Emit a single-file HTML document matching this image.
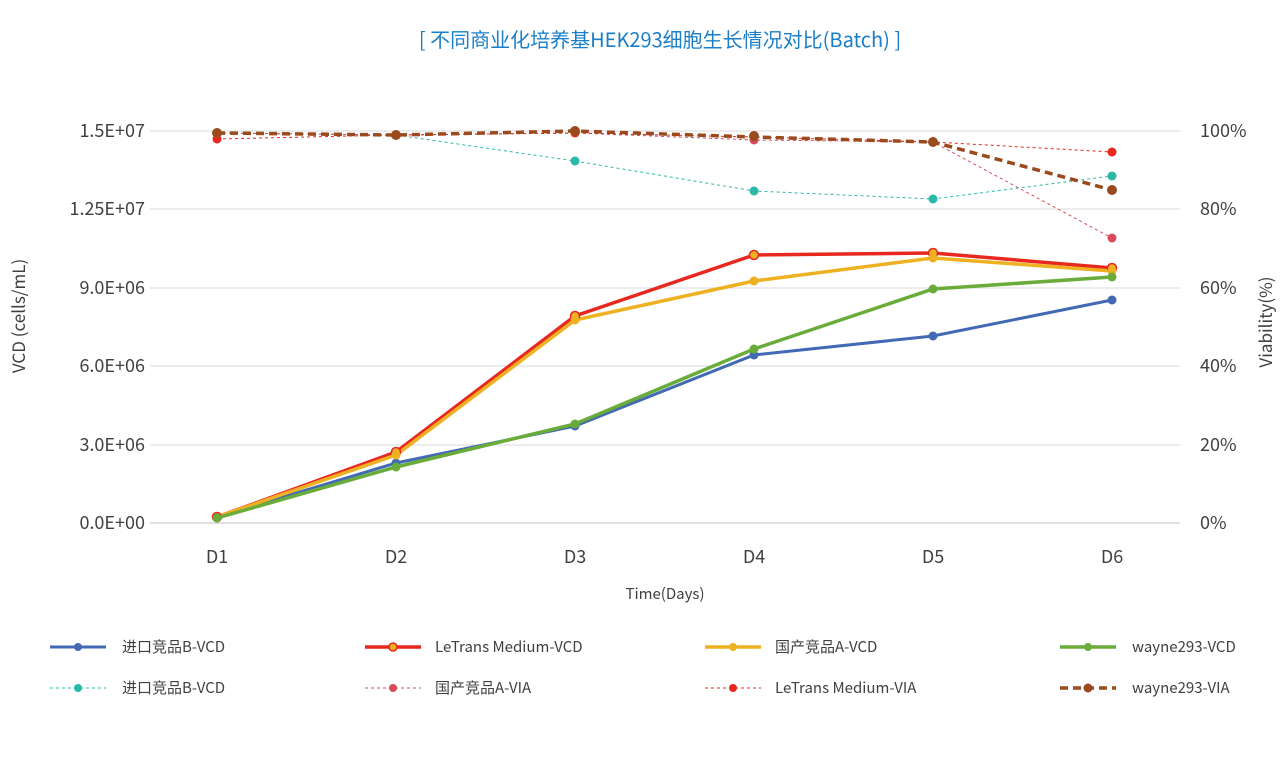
<!DOCTYPE html>
<html><head><meta charset="utf-8"><style>
html,body{margin:0;padding:0;background:#fff;}
svg{display:block;font-family:"Noto Sans CJK SC","Liberation Sans",sans-serif;}
</style></head><body>
<svg width="1280" height="763" viewBox="0 0 1280 763">
<text x="660" y="47" text-anchor="middle" font-size="20" fill="#1a7fc8">[ 不同商业化培养基HEK293细胞生长情况对比(Batch) ]</text>
<g stroke="#d9d9d9" stroke-width="1">
<line x1="150" y1="131" x2="1180" y2="131"/><line x1="150" y1="209" x2="1180" y2="209"/>
<line x1="150" y1="288" x2="1180" y2="288"/><line x1="150" y1="366" x2="1180" y2="366"/>
<line x1="150" y1="445" x2="1180" y2="445"/><line x1="150" y1="523" x2="1180" y2="523" stroke="#bfbfbf"/>
</g>
<g font-size="18" fill="#404040" text-anchor="end">
<text x="145" y="137">1.5E+07</text><text x="145" y="215">1.25E+07</text><text x="145" y="294">9.0E+06</text>
<text x="145" y="372">6.0E+06</text><text x="145" y="451">3.0E+06</text><text x="145" y="529">0.0E+00</text>
</g>
<g font-size="18" fill="#404040" text-anchor="start">
<text x="1200" y="137">100%</text><text x="1200" y="215">80%</text><text x="1200" y="294">60%</text>
<text x="1200" y="372">40%</text><text x="1200" y="451">20%</text><text x="1200" y="529">0%</text>
</g>
<g font-size="18" fill="#404040" text-anchor="middle">
<text x="217" y="563">D1</text><text x="396" y="563">D2</text><text x="575" y="563">D3</text>
<text x="754" y="563">D4</text><text x="933" y="563">D5</text><text x="1112" y="563">D6</text>
</g>
<text x="665" y="599" font-size="15" fill="#404040" text-anchor="middle">Time(Days)</text>
<text transform="translate(25,316) rotate(-90)" font-size="17" fill="#404040" text-anchor="middle">VCD (cells/mL)</text>
<text transform="translate(1272,322) rotate(-90)" font-size="17" fill="#404040" text-anchor="middle">Viability(%)</text>

<polyline points="217,133 396,135 575,161 754,191 933,199 1112,176" fill="none" stroke="#2bb8a8" stroke-width="1" stroke-dasharray="3,3"/>
<polyline points="217,133 396,135 575,133 754,140 933,142 1112,238" fill="none" stroke="#d84a5c" stroke-width="1" stroke-dasharray="3,3"/>
<polyline points="217,139 396,135 575,133 754,137 933,142 1112,152" fill="none" stroke="#e8281e" stroke-width="1" stroke-dasharray="3,3"/>
<g fill="#2bb8a8"><circle cx="217" cy="133" r="4.5"/><circle cx="396" cy="135" r="4.5"/><circle cx="575" cy="161" r="4.5"/><circle cx="754" cy="191" r="4.5"/><circle cx="933" cy="199" r="4.5"/><circle cx="1112" cy="176" r="4.5"/></g>
<g fill="#d84a5c"><circle cx="754" cy="140" r="4.5"/><circle cx="1112" cy="238" r="4.5"/></g>
<g fill="#e8281e"><circle cx="217" cy="139" r="4.5"/><circle cx="1112" cy="152" r="4.5"/><circle cx="575" cy="133" r="4.5"/></g>
<polyline points="217,133 396,135 575,131 754,137 933,142 1112,190" fill="none" stroke="#9b4a1e" stroke-width="3.5" stroke-dasharray="8,5"/>
<g fill="#9b4a1e"><circle cx="217" cy="133" r="5"/><circle cx="396" cy="135" r="5"/><circle cx="575" cy="131" r="5"/><circle cx="754" cy="136" r="5"/><circle cx="933" cy="142" r="5"/><circle cx="1112" cy="190" r="5"/></g>

<polyline points="217,517 396,463 575,426 754,355 933,336 1112,300" fill="none" stroke="#4169b4" stroke-width="3"/>
<g fill="#4169b4"><circle cx="217" cy="517" r="4.5"/><circle cx="396" cy="463" r="4.5"/><circle cx="575" cy="426" r="4.5"/><circle cx="754" cy="355" r="4.5"/><circle cx="933" cy="336" r="4.5"/><circle cx="1112" cy="300" r="4.5"/></g>
<polyline points="217,517 396,452 575,316 754,255 933,253 1112,268" fill="none" stroke="#e8281e" stroke-width="3.5"/>
<polyline points="217,517 396,455 575,320 754,281 933,258 1112,271" fill="none" stroke="#eeb122" stroke-width="3.5"/>
<g fill="#eeb122" stroke="#e8281e" stroke-width="1.5"><circle cx="217" cy="517" r="4.5"/><circle cx="396" cy="452" r="4.5"/><circle cx="575" cy="316" r="4.5"/><circle cx="754" cy="255" r="4.5"/><circle cx="933" cy="253" r="4.5"/><circle cx="1112" cy="268" r="4.5"/></g>
<g fill="#eeb122"><circle cx="396" cy="455" r="4.5"/><circle cx="575" cy="320" r="4.5"/><circle cx="754" cy="281" r="4.5"/><circle cx="933" cy="258" r="4.5"/><circle cx="1112" cy="271" r="4.5"/></g>
<polyline points="217,518 396,467 575,424 754,349 933,289 1112,277" fill="none" stroke="#6aac3a" stroke-width="3.5"/>
<g fill="#6aac3a"><circle cx="217" cy="518" r="4.5"/><circle cx="396" cy="467" r="4.5"/><circle cx="575" cy="424" r="4.5"/><circle cx="754" cy="349" r="4.5"/><circle cx="933" cy="289" r="4.5"/><circle cx="1112" cy="277" r="4.5"/></g>

<g font-size="15" fill="#404040">
<line x1="50" y1="647" x2="106" y2="647" stroke="#4169b4" stroke-width="3"/><circle cx="78" cy="647" r="4" fill="#4169b4"/>
<text x="122" y="652">进口竞品B-VCD</text>
<line x1="365" y1="647" x2="421" y2="647" stroke="#e8281e" stroke-width="3.5"/><circle cx="393" cy="647" r="4" fill="#eeb122" stroke="#e8281e" stroke-width="1.5"/>
<text x="435" y="652">LeTrans Medium-VCD</text>
<line x1="705" y1="647" x2="761" y2="647" stroke="#eeb122" stroke-width="3.5"/><circle cx="733" cy="647" r="4" fill="#eeb122"/>
<text x="775" y="652">国产竞品A-VCD</text>
<line x1="1060" y1="647" x2="1116" y2="647" stroke="#6aac3a" stroke-width="3.5"/><circle cx="1088" cy="647" r="4" fill="#6aac3a"/>
<text x="1132" y="652">wayne293-VCD</text>

<line x1="50" y1="688" x2="106" y2="688" stroke="#2bb8a8" stroke-width="1" stroke-dasharray="3,3"/><circle cx="78" cy="688" r="4" fill="#2bb8a8"/>
<text x="122" y="693">进口竞品B-VCD</text>
<line x1="365" y1="688" x2="421" y2="688" stroke="#d84a5c" stroke-width="1" stroke-dasharray="3,3"/><circle cx="393" cy="688" r="4" fill="#d84a5c"/>
<text x="435" y="693">国产竞品A-VIA</text>
<line x1="705" y1="688" x2="761" y2="688" stroke="#e8281e" stroke-width="1" stroke-dasharray="3,3"/><circle cx="733" cy="688" r="4" fill="#e8281e"/>
<text x="775" y="693">LeTrans Medium-VIA</text>
<line x1="1060" y1="688" x2="1116" y2="688" stroke="#9b4a1e" stroke-width="3.5" stroke-dasharray="8,5"/><circle cx="1088" cy="688" r="4.5" fill="#9b4a1e"/>
<text x="1132" y="693">wayne293-VIA</text>
</g>
</svg>
</body></html>
